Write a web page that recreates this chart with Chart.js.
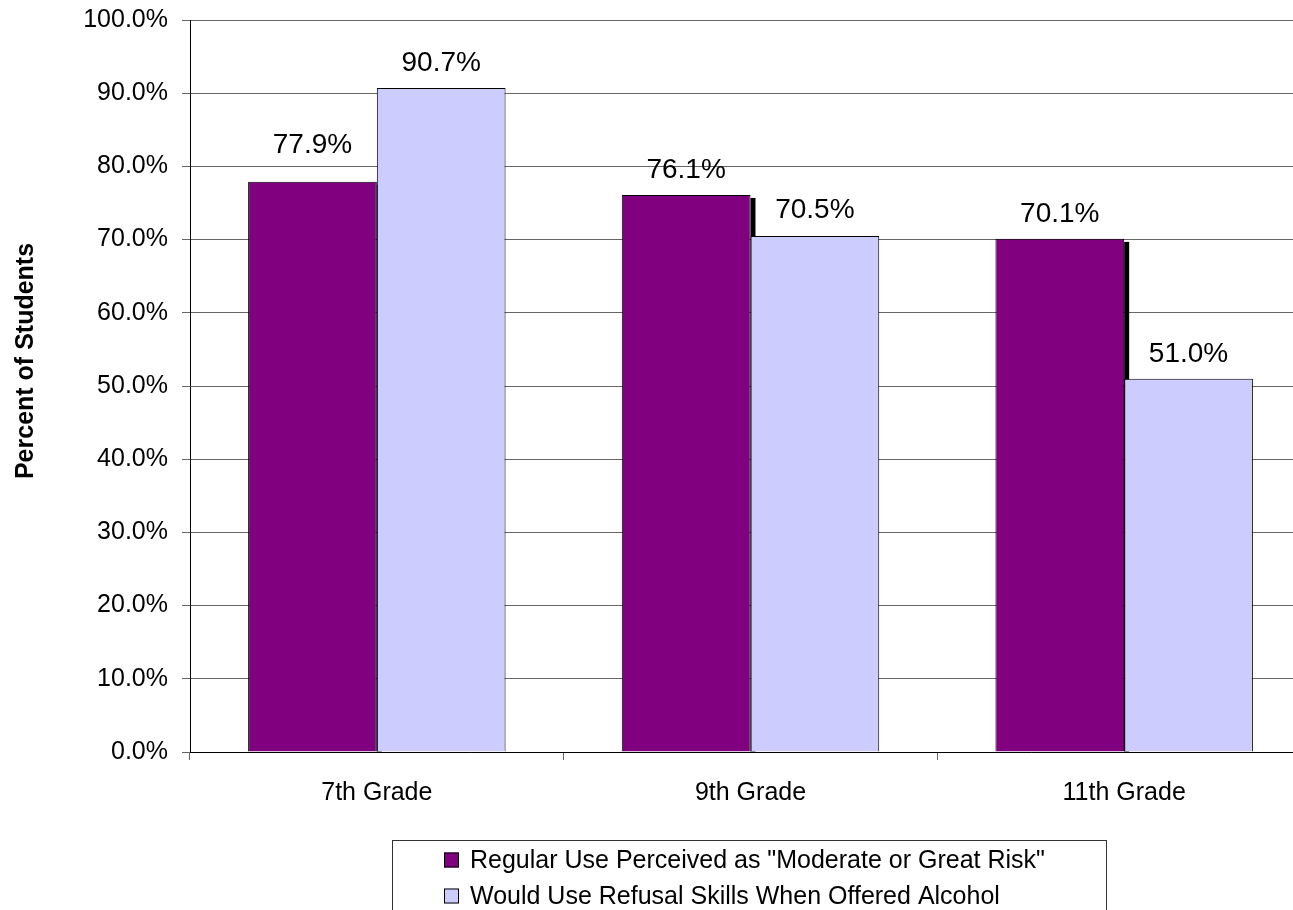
<!DOCTYPE html>
<html>
<head>
<meta charset="utf-8">
<script src="https://cdn.jsdelivr.net/npm/chart.js@4/dist/chart.umd.min.js"></script>
<style>
html,body{margin:0;padding:0;background:#fff;overflow:hidden;width:1293px;height:910px;}
canvas{display:block;}
</style>
</head>
<body>
<canvas id="c" width="1320" height="910"></canvas>
<script>
// ---- data ----
const categories = ['7th Grade', '9th Grade', '11th Grade'];
const riskPerceived = [77.9, 76.1, 70.1];
const refusalSkills = [90.7, 70.5, 51.0];
const seriesNames = ['Regular Use Perceived as "Moderate or Great Risk"', 'Would Use Refusal Skills When Offered Alcohol'];
const yAxisTitle = 'Percent of Students';
const yMin = 0, yMax = 100, yStep = 10;

// ---- styles ----
const colors = ['#800080', '#CCCCFF'];
const labelGap = [[29, 17, 17], [17, 18, 17]];
const FONT = '"Liberation Sans", Arial, sans-serif';

const shadowPlugin = {
  id: 'shadow',
  beforeDatasetDraw(chart, args) {
    if (args.index !== 1) return;
    const ctx = chart.ctx;
    const meta = chart.getDatasetMeta(0);
    ctx.save();
    ctx.fillStyle = '#000';
    meta.data.forEach(el => {
      const right = el.x + el.width / 2;
      ctx.fillRect(right, el.y + 3, 5, el.base - el.y - 3);
    });
    ctx.restore();
  }
};

const labelPlugin = {
  id: 'vlabels',
  afterDatasetsDraw(chart) {
    const ctx = chart.ctx;
    ctx.save();
    ctx.font = '28px ' + FONT;
    ctx.fillStyle = '#000';
    ctx.textAlign = 'center';
    ctx.textBaseline = 'alphabetic';
    chart.data.datasets.forEach((ds, di) => {
      const meta = chart.getDatasetMeta(di);
      meta.data.forEach((el, i) => {
        ctx.fillText(ds.data[i].toFixed(1) + '%', el.x, el.y - labelGap[di][i]);
      });
    });
    ctx.restore();
  }
};

const decoPlugin = {
  id: 'deco',
  afterDraw(chart) {
    const ctx = chart.ctx;
    ctx.save();
    // y axis title
    ctx.font = 'bold 25px ' + FONT;
    ctx.fillStyle = '#000';
    ctx.textAlign = 'center';
    ctx.textBaseline = 'alphabetic';
    ctx.translate(33, 361);
    ctx.rotate(-Math.PI / 2);
    ctx.fillText(yAxisTitle, 0, 0);
    ctx.restore();

    // legend
    ctx.save();
    ctx.strokeStyle = '#333';
    ctx.lineWidth = 1;
    ctx.strokeRect(392.5, 840.5, 714, 100);
    ctx.font = '25px ' + FONT;
    ctx.textAlign = 'left';
    ctx.textBaseline = 'middle';
    const rows = [860, 896];
    chart.data.datasets.forEach((ds, i) => {
      const y = rows[i];
      ctx.fillStyle = ds.backgroundColor;
      ctx.fillRect(444, y - 7.5, 15, 15);
      ctx.strokeStyle = '#000';
      ctx.strokeRect(444.5, y - 7, 14, 14);
      ctx.fillStyle = '#000';
      ctx.fillText(ds.label, 470, y + 1);
    });
    ctx.restore();
  }
};

new Chart(document.getElementById('c'), {
  type: 'bar',
  data: {
    labels: categories,
    datasets: [
      { label: seriesNames[0], data: riskPerceived, backgroundColor: colors[0], borderColor: '#000', borderWidth: 1 },
      { label: seriesNames[1], data: refusalSkills, backgroundColor: colors[1], borderColor: '#000', borderWidth: 1 }
    ]
  },
  options: {
    responsive: false,
    animation: false,
    devicePixelRatio: 1,
    layout: { padding: { top: 20, right: 9, left: 0, bottom: 0 } },
    datasets: { bar: { categoryPercentage: 0.689, barPercentage: 1.0 } },
    plugins: { legend: { display: false }, tooltip: { enabled: false } },
    scales: {
      x: {
        grid: { drawOnChartArea: false, offset: true, tickLength: 8, color: '#666', tickColor: '#666' },
        border: { color: '#000', width: 1 },
        ticks: { font: { family: FONT, size: 25 }, color: '#000', padding: 18 },
        afterFit(s) { s.height = 158; s.paddingLeft = 0; s.paddingRight = 0; }
      },
      y: {
        min: yMin, max: yMax,
        grid: { color: '#666', tickLength: 8, tickColor: '#666' },
        border: { color: '#000', width: 1 },
        ticks: {
          stepSize: yStep,
          font: { family: FONT, size: 25 }, color: '#000', padding: 14,
          callback: v => v.toFixed(1) + '%'
        },
        afterFit(s) { s.width = 190; s.paddingTop = 0; s.paddingBottom = 0; }
      }
    }
  },
  plugins: [shadowPlugin, labelPlugin, decoPlugin]
});
</script>
</body>
</html>
